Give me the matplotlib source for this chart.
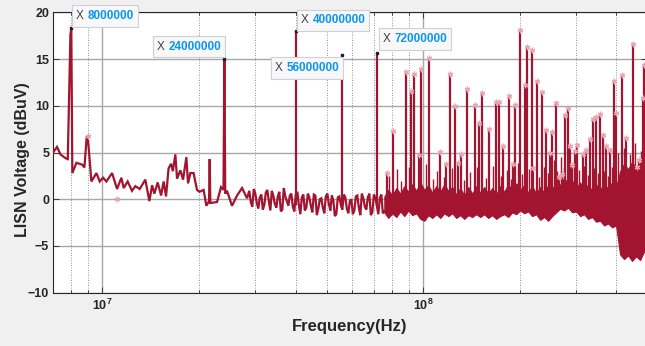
import numpy as np
import matplotlib
matplotlib.use('Agg')
import matplotlib.pyplot as plt
from matplotlib.offsetbox import TextArea, HPacker, AnnotationBbox, DrawingArea
from matplotlib.ticker import FixedLocator, LogLocator, NullFormatter, FuncFormatter

plt.rcParams['font.family'] = ['Liberation Sans', 'DejaVu Sans']
plt.rcParams['mathtext.fontset'] = 'custom'
plt.rcParams['mathtext.rm'] = 'Liberation Sans'
plt.rcParams['mathtext.bf'] = 'Liberation Sans:bold'

# ---------------- data (frequency in MHz, level in dBuV) ----------------
lf_freq_mhz = [7.02, 7.12, 7.22, 7.40, 7.67, 7.80, 7.95, 8.00, 8.06, 8.30,
               8.65, 8.79, 8.93, 9.00, 9.24, 9.58, 9.81, 10.05, 10.29, 10.72,
               11.11, 11.46, 11.65, 11.99, 12.37, 12.67, 13.07, 13.61, 14.01, 14.29,
               14.52, 14.87, 15.24, 15.52, 15.79, 16.08, 16.37, 16.58, 16.88, 17.09,
               17.50, 17.84, 18.27, 18.49, 18.80, 19.24, 19.72, 20.09, 20.68, 21.09,
               21.50, 21.60, 21.70, 22.77, 23.43, 23.85, 24.00, 24.15, 24.46, 25.35,
               26.29, 27.25, 28.24]
lf_level = [5.0, 5.3, 5.6, 4.8, 4.4, 4.3, 17.6, 18.3, 2.8, 3.9,
            3.7, 3.4, 6.6, 6.8, 1.9, 2.8, 1.9, 2.3, 1.9, 2.8,
            1.1, 2.3, 1.2, 1.9, 0.9, 1.4, 1.1, 2.1, -0.2, 1.5,
            0.6, 1.8, 0.4, 1.9, 0.3, 3.3, 3.8, 3.0, 4.8, 2.2,
            3.1, 2.1, 4.5, 1.7, 2.8, 2.8, 1.0, 0.8, 1.0, -0.7,
            -0.2, 4.3, -0.4, -0.3, 1.3, 1.0, 15.0, 0.6, 0.9, -0.7,
            0.4, 1.2, 0.1]

mid_freq_mhz = [28.70, 29.01, 29.33, 29.65, 29.97, 30.29, 30.62, 30.95, 31.29, 31.63,
                31.97, 32.31, 32.66, 33.02, 33.38, 33.74, 34.10, 34.47, 34.85, 35.22,
                35.60, 35.99, 36.38, 36.77, 37.17, 37.57, 37.98, 38.39, 38.81, 39.23,
                39.65, 40.08, 40.52, 40.96, 41.40, 41.85, 42.30, 42.76, 43.22, 43.69,
                44.16, 44.64, 45.12, 45.61, 46.11, 46.61, 47.11, 47.62, 48.13, 48.65,
                49.18, 49.71, 50.25, 50.80, 51.35, 51.90, 52.46, 53.03, 53.60, 54.18,
                54.77, 55.36, 55.96, 56.57, 57.18, 57.80, 58.43, 59.06, 59.70, 60.35,
                61.00, 61.66, 62.32, 63.00, 63.68, 64.37, 65.07, 65.77, 66.48, 67.20,
                67.93, 68.67, 69.41, 70.16, 70.92, 71.69, 72.46, 73.25, 74.04, 74.84,
                75.65]
mid_level = [0.9, -0.3, -0.8, 1.1, 0.6, -0.4, -1.0, 0.2, 0.5, -1.1,
             -0.6, 0.7, 1.0, -0.2, -1.2, 0.9, 0.4, -0.5, -0.9, 0.3,
             0.8, -1.3, -1.1, 1.2, 0.3, -0.2, -0.7, 0.4, 0.6, -0.8,
             -1.3, 0.5, 0.8, -0.6, -1.6, 0.2, 0.5, -1.2, -0.9, 0.6,
             0.2, -0.7, -1.4, 0.5, 0.4, -1.7, -1.0, 0.0, 0.1, -0.9,
             -1.5, 0.3, 0.6, -0.5, -1.2, 0.4, -0.1, -1.8, -1.6, 0.2,
             0.3, -0.6, -1.1, 0.5, 0.2, -1.0, -1.5, -0.2, 0.0, -1.6,
             -1.2, 0.3, 0.4, -0.9, -1.7, 0.6, 0.1, -0.8, -1.1, 0.2,
             0.6, -1.7, -1.4, 0.5, 0.2, -0.7, -1.6, 0.1, 0.5, -1.5,
             -1.3]

band_freq_mhz = [75.65, 77.85, 80.12, 82.45, 84.85, 87.32, 89.86, 92.47, 95.16, 97.93,
                 100.78, 103.71, 106.73, 109.83, 113.03, 116.32, 119.70, 123.18, 126.77, 130.46,
                 134.25, 138.16, 142.18, 146.31, 150.57, 154.95, 159.46, 164.10, 168.87, 173.78,
                 178.84, 184.04, 189.40, 194.91, 200.58, 206.41, 212.42, 218.60, 224.96, 231.50,
                 238.24, 245.17, 252.30, 259.64, 267.19, 274.97, 282.97, 291.20, 299.67, 308.39,
                 317.36, 326.59, 336.09, 345.87, 355.93, 366.29, 376.94, 387.91, 399.19, 410.81,
                 422.76, 435.06, 447.71, 460.74, 474.14, 487.93, 502.13]
band_high = [0.3, 1.0, 0.4, 1.2, 0.6, 1.4, 0.8, 1.6, 0.9, 1.8,
             1.0, 1.5, 0.7, 1.4, 0.8, 1.6, 0.9, 1.3, 0.5, 1.2,
             0.4, 1.3, 0.6, 1.4, 0.7, 1.3, 0.6, 1.2, 0.5, 1.4,
             0.8, 1.6, 1.0, 1.7, 1.0, 1.5, 0.7, 1.4, 0.6, 1.3,
             0.7, 1.5, 1.0, 2.0, 1.5, 2.3, 1.6, 2.0, 1.2, 1.8,
             1.0, 1.6, 0.9, 1.6, 1.0, 1.7, 1.1, 1.8, 1.3, 3.0,
             3.8, 3.2, 4.0, 3.3, 3.9, 3.4, 3.8]
band_low = [-1.4, -2.0, -1.5, -1.9, -1.3, -1.8, -1.2, -1.7, -1.5, -2.1,
            -2.3, -1.7, -2.0, -1.6, -2.0, -1.5, -1.8, -1.5, -2.0, -1.7,
            -2.1, -1.7, -1.9, -1.6, -1.9, -1.6, -2.0, -1.7, -2.1, -1.8,
            -1.6, -1.9, -1.4, -1.6, -1.2, -1.5, -1.3, -1.8, -1.6, -2.2,
            -1.9, -2.3, -1.8, -1.4, -1.0, -1.2, -0.9, -1.4, -1.3, -1.8,
            -1.6, -2.1, -1.9, -2.4, -2.3, -2.8, -2.6, -3.0, -2.8, -5.9,
            -6.4, -6.0, -6.6, -6.1, -6.5, -5.6, -5.3]

spike_freq_mhz = [40.0, 56.0, 72.0, 77.1, 80.5, 88.5, 91.5, 93.8, 96.7, 98.6,
                  104.6, 113.0, 118.0, 120.8, 125.9, 128.8, 131.3, 136.8, 145.2, 149.1,
                  153.0, 160.9, 169.2, 172.5, 177.9, 185.6, 190.3, 193.1, 200.5, 206.9,
                  209.9, 218.1, 220.6, 226.1, 234.3, 241.7, 248.7, 251.8, 259.6, 265.9,
                  270.5, 277.0, 282.4, 287.1, 290.6, 297.6, 302.5, 314.5, 322.0, 331.4,
                  337.9, 345.9, 355.9, 362.9, 371.6, 382.4, 393.6, 399.3, 415.9, 429.0,
                  450.0, 463.2, 472.0, 483.5, 489.0]
spike_peak = [18.0, 15.4, 15.7, 2.8, 7.3, 13.6, 11.6, 13.4, 4.7, 13.9,
              15.1, 5.1, 3.8, 13.4, 10.0, 3.9, 4.8, 11.8, 10.1, 8.2,
              11.4, 7.5, 10.4, 10.4, 5.7, 11.1, 3.8, 10.1, 18.1, 12.2,
              16.3, 16.0, 3.3, 12.7, 11.5, 7.4, 4.9, 7.2, 10.3, 2.4,
              2.7, 9.0, 9.8, 5.7, 3.7, 5.2, 5.8, 4.8, 5.3, 6.4,
              8.6, 8.8, 9.1, 6.9, 5.7, 5.3, 12.6, 9.2, 13.3, 6.5,
              16.6, 3.5, 4.2, 10.8, 14.4]
SPIKE_BASE = -0.6

minor_spike_freq_mhz = [78.5, 83.0, 85.5, 90.0, 97.5, 102.0, 107.0, 110.5, 116.0, 123.0,
                        134.0, 140.0, 147.0, 157.0, 165.0, 175.0, 182.0, 188.0, 197.0, 203.5,
                        213.0, 229.0, 238.0, 245.5, 256.0, 262.0, 268.0, 274.0, 285.0, 295.0,
                        306.0, 318.0, 327.0, 341.0, 350.0, 367.0, 377.0, 388.0, 405.0, 422.0,
                        440.0, 456.0, 478.0, 495.0]
minor_spike_peak = [2.5, 3.2, 2.0, 3.5, 2.6, 3.8, 2.2, 3.0, 2.4, 3.3,
                    2.1, 2.9, 3.4, 2.3, 3.6, 2.5, 3.1, 2.2, 3.9, 2.7,
                    3.2, 2.4, 3.5, 2.8, 4.2, 3.0, 4.5, 3.4, 3.8, 4.0,
                    3.1, 3.6, 2.6, 3.3, 2.8, 3.0, 2.5, 3.4, 5.0, 5.5,
                    4.8, 6.0, 5.2, 6.5]

extra_marker_freq_mhz = [9.0, 11.1]
extra_marker_level = [6.8, 0.0]

tip_freq_mhz = [8.0, 24.0, 40.0, 56.0, 72.0]
tip_level = [18.3, 15.0, 18.0, 15.4, 15.7]

# ---------------- styling ----------------
LINE = '#a2142f'
MARK = '#e8a4b4'
FIG_BG = '#f0f0f0'
TXT = '#262626'

fig = plt.figure(figsize=(6.45, 3.46), dpi=100, facecolor=FIG_BG)
ax = fig.add_axes([0.0817, 0.154, 0.9221, 0.8104])
ax.set_facecolor('white')
ax.set_axisbelow(True)

MHZ = 1e6
trace_f = np.concatenate([np.array(lf_freq_mhz), np.array(mid_freq_mhz)]) * MHZ
trace_v = np.concatenate([lf_level, mid_level])
ax.plot(trace_f, trace_v, color=LINE, lw=1.6, solid_joinstyle='miter', zorder=3)

band_f = np.array(band_freq_mhz) * MHZ
ax.fill_between(band_f, band_low, band_high, facecolor=LINE, edgecolor=LINE,
                lw=0.8, zorder=3)

ax.vlines(np.array(minor_spike_freq_mhz) * MHZ, SPIKE_BASE, minor_spike_peak,
          color=LINE, lw=1.0, zorder=3)

sp_f = np.array(spike_freq_mhz) * MHZ
ax.vlines(sp_f, SPIKE_BASE, spike_peak, color=LINE, lw=1.6, zorder=3)

tip_f = np.array(tip_freq_mhz) * MHZ
non_tip = [i for i, f in enumerate(spike_freq_mhz) if f not in tip_freq_mhz]
ax.plot(sp_f[non_tip], np.array(spike_peak)[non_tip], ls='none',
        marker=(6, 2, 0), ms=4, mew=0.9, color=MARK, zorder=4)
ax.plot(np.array(extra_marker_freq_mhz) * MHZ, extra_marker_level, ls='none',
        marker=(6, 2, 0), ms=4, mew=0.9, color=MARK, zorder=4)
ax.plot(tip_f, tip_level, ls='none', marker='s', ms=1.6, color='#202020', zorder=5)

# data tips
tip_align = [(0, 0), (1, 0), (0, 0), (1, 1), (0, 0)]
tip_offset = [(3.5, 3.9), (-2.4, 4.0), (3.7, 2.7), (-2.3, -4.0), (4.0, 4.7)]
for f, v, al, off in zip(tip_f, tip_level, tip_align, tip_offset):
    t1 = TextArea('X', textprops=dict(color='#404040', fontsize=8.5))
    t2 = TextArea('%d' % round(f), textprops=dict(color='#0a96f0', fontsize=8.5,
                                                  fontweight='bold'))
    txt = HPacker(children=[t1, t2], align='baseline', pad=0, sep=2.8)
    spacer = DrawingArea(0, 10)
    pack = HPacker(children=[spacer, txt], align='center', pad=0, sep=0)
    ab = AnnotationBbox(pack, (f, v), xybox=off, xycoords='data',
                        boxcoords='offset points', box_alignment=al,
                        frameon=True, pad=0.32, fontsize=8.5,
                        bboxprops=dict(facecolor='#f8f8fa', edgecolor='#cfcfd4',
                                       linewidth=0.8),
                        annotation_clip=False, zorder=6)
    ax.add_artist(ab)

# axes
ax.set_xscale('log')
ax.set_xlim(7e6, 5e8)
ax.set_ylim(-10, 20)
ax.set_yticks(np.arange(-10, 21, 5))
ax.xaxis.set_major_locator(FixedLocator([1e7, 1e8]))
ax.xaxis.set_minor_locator(LogLocator(base=10, subs=np.arange(2, 10)))
ax.xaxis.set_minor_formatter(NullFormatter())
ax.xaxis.set_major_formatter(FuncFormatter(
    lambda v, p: r'$\mathbf{10^{%d}}$' % int(round(np.log10(v)))))

ax.grid(which='major', color='#a8a8a8', lw=1.0, ls='-')
ax.grid(which='minor', axis='x', color='#6e6e6e', lw=0.6, ls=(0, (1, 2)))

ax.tick_params(which='both', direction='in', top=True, right=True, color=TXT,
               labelcolor=TXT, labelsize=9, width=0.6)
ax.tick_params(which='major', length=4)
ax.tick_params(which='minor', length=2.5)
ax.tick_params(axis='x', pad=4)
ax.tick_params(axis='y', pad=2.5)
for lab in ax.get_yticklabels():
    lab.set_fontweight('bold')
for s in ax.spines.values():
    s.set_color(TXT)
    s.set_linewidth(0.8)

ax.set_xlabel('Frequency(Hz)', fontsize=12, fontweight='bold', color=TXT)
ax.set_ylabel('LISN Voltage (dBuV)', fontsize=11.5, fontweight='bold', color=TXT)
ax.xaxis.set_label_coords(0.5, -0.094)
ax.yaxis.set_label_coords(-0.039, 0.475)

fig.savefig('out.png', dpi=100, facecolor=FIG_BG)
